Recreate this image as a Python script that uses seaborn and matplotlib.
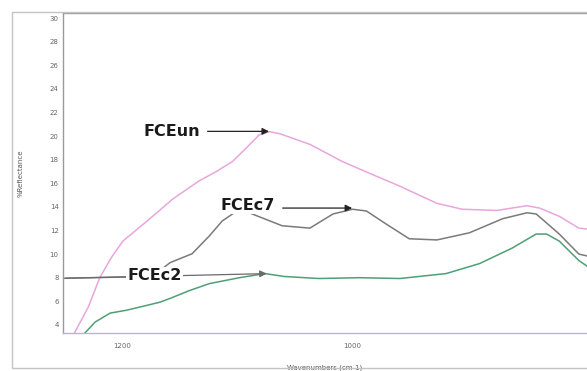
import numpy as np
import pandas as pd
import matplotlib
matplotlib.use("Agg")
import matplotlib.pyplot as plt
from matplotlib.patches import Rectangle
from matplotlib.ticker import MultipleLocator
import seaborn as sns

# Spectra (wavenumber in cm-1, % reflectance)
un_wn = [1241, 1229, 1219, 1209, 1199, 1178, 1156, 1133, 1118, 1104, 1092, 1081, 1072,
         1063, 1037, 1009, 983, 959, 927, 905, 875, 849, 838, 821, 804, 795]
un_refl = [3.3, 5.5, 8.0, 9.7, 11.1, 12.8, 14.65, 16.2, 17.0, 17.85, 19.0, 20.1, 20.37,
           20.2, 19.3, 17.85, 16.75, 15.75, 14.3, 13.8, 13.7, 14.1, 13.9, 13.2, 12.2, 12.1]

c7_wn = [1251, 1176, 1167, 1158, 1139, 1124, 1113, 1098, 1087, 1061, 1037, 1017, 1000,
         988, 971, 959, 951, 927, 899, 870, 849, 841, 821, 804, 795]
c7_refl = [7.95, 8.1, 8.6, 9.28, 10.03, 11.55, 12.8, 13.8, 13.4, 12.4, 12.2, 13.4, 13.8,
           13.65, 12.55, 11.8, 11.3, 11.2, 11.8, 13.0, 13.5, 13.4, 11.7, 10.0, 9.8]

c2_wn = [1232, 1223, 1210, 1196, 1178, 1167, 1158, 1141, 1124, 1098, 1076, 1059, 1029,
         994, 959, 919, 890, 862, 841, 832, 821, 804, 795]
c2_refl = [3.3, 4.24, 5.0, 5.24, 5.66, 5.92, 6.25, 6.92, 7.5, 8.0, 8.35, 8.1, 7.93,
           8.0, 7.93, 8.35, 9.2, 10.5, 11.7, 11.7, 11.1, 9.45, 8.85]

y_ticks = list(range(4, 32, 2))
x_ticks = [1200, 1000]

sns.set_style("white")
plt.rcParams["font.family"] = ["DejaVu Sans"]

fig = plt.figure(figsize=(5.87, 3.71), dpi=100)
ax = fig.add_axes([0.107, 0.102, 0.893, 0.862])

sns.lineplot(x=un_wn, y=un_refl, sort=False, ax=ax, color="#e8a6dc", lw=1.1)
sns.lineplot(x=c7_wn, y=c7_refl, sort=False, ax=ax, color="#7a7a7a", lw=1.1)
sns.lineplot(x=c2_wn, y=c2_refl, sort=False, ax=ax, color="#4f9f76", lw=1.1)

ax.set_xlim(1251, 797)
ax.set_ylim(3.3, 30.4)
ax.set_xticks(x_ticks)
ax.set_yticks(y_ticks)
ax.xaxis.set_minor_locator(MultipleLocator(50))
ax.yaxis.set_minor_locator(MultipleLocator(0.5))
ax.tick_params(axis="both", which="major", direction="in", length=3, width=0.6,
               labelsize=5, colors="#666666", pad=3)
ax.tick_params(axis="both", which="minor", direction="in", length=1.5, width=0.5,
               colors="#999999")
ax.tick_params(axis="x", pad=7)

ax.set_xlabel("Wavenumbers (cm-1)", fontsize=5, color="#555555", labelpad=11)
ax.set_ylabel("%Reflectance", fontsize=5, color="#555555", labelpad=19)

for side in ["left", "top"]:
    ax.spines[side].set_color("#9a9a9a")
    ax.spines[side].set_linewidth(1.0)
ax.spines["bottom"].set_color("#b8b4d8")
ax.spines["bottom"].set_linewidth(1.0)
ax.spines["right"].set_visible(False)

# labels with arrows
lab = dict(fontsize=11.5, fontweight="bold", color="#1a1a1a", ha="right", va="center")
arrow = dict(arrowstyle="-|>", color="#222222", lw=0.9, mutation_scale=10)

ax.annotate("", xy=(1070, 20.4), xytext=(1128, 20.4), arrowprops=arrow)
ax.text(1132, 20.4, "FCEun", **lab)

ax.annotate("", xy=(998, 13.9), xytext=(1063, 13.9), arrowprops=arrow)
ax.text(1067, 14.1, "FCEc7", bbox=dict(fc="white", ec="none", pad=0.5), **lab)

ax.annotate("", xy=(1072, 8.35), xytext=(1251, 7.95),
            arrowprops=dict(arrowstyle="-|>", color="#6a6a6a", lw=0.9,
                            mutation_scale=10))
ax.text(1148, 8.15, "FCEc2", bbox=dict(fc="white", ec="none", pad=0.8), **lab)

# outer frame of the exported figure
fig.patches.append(Rectangle((0.02, 0.008), 1.0, 0.96, transform=fig.transFigure,
                             fill=False, ec="#c4c4c4", lw=1.0))

fig.savefig("out.png", dpi=100)
